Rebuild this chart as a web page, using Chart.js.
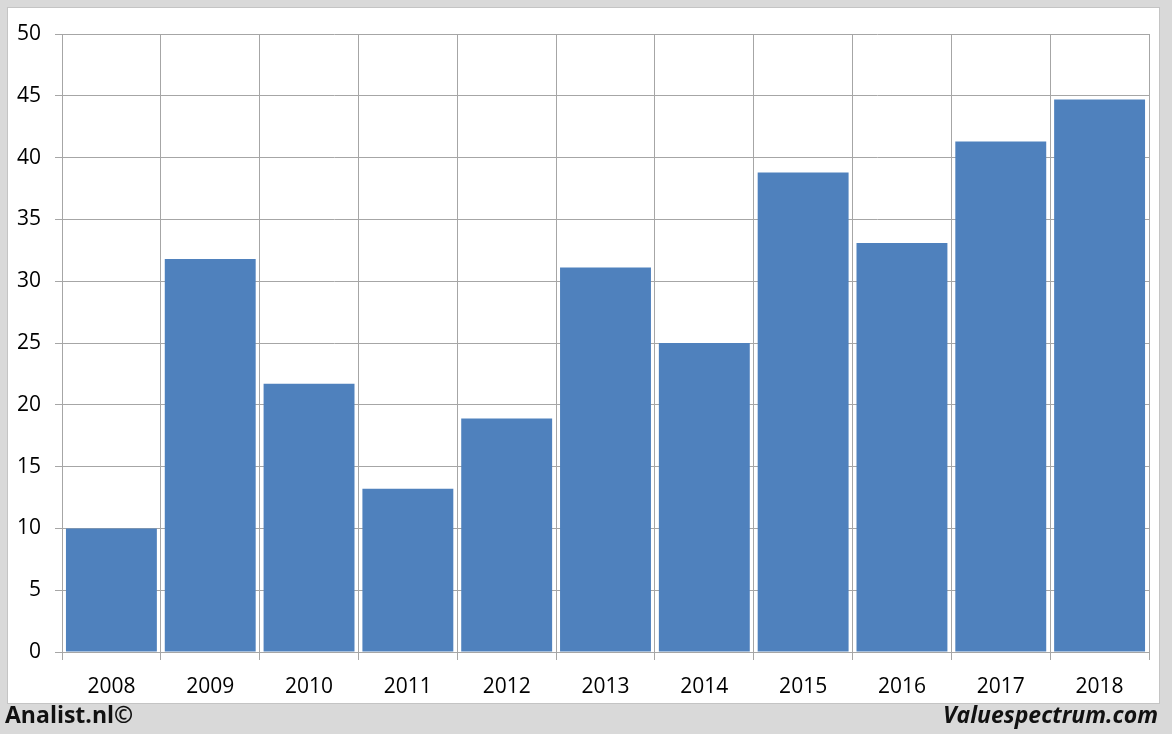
<!DOCTYPE html>
<html>
<head>
<meta charset="utf-8">
<script src="https://cdn.jsdelivr.net/npm/chart.js@4/dist/chart.umd.min.js"></script>
<style>
  html, body { margin: 0; padding: 0; background: #d9d9d9; width: 1172px; height: 734px; overflow: hidden; }
  #panel { position: absolute; left: 7px; top: 7px; width: 1151px; height: 695px; background: #ffffff; border: 1px solid #c4c4c4; }
  #wrap { position: absolute; left: 0; top: 0; width: 1172px; height: 734px; }
  .foot { position: absolute; font-family: "Open Sans", sans-serif; font-weight: bold; font-size: 23px; color: #111; line-height: 1; }
  #left { left: 5px; top: 703px; }
  #right { right: 14px; top: 703px; font-style: italic; }
</style>
</head>
<body>
<div id="panel"></div>
<div id="wrap"><canvas id="c" width="1172" height="734"></canvas></div>
<div class="foot" id="left">Analist.nl©</div>
<div class="foot" id="right">Valuespectrum.com</div>
<script>
const categories = ["2008","2009","2010","2011","2012","2013","2014","2015","2016","2017","2018"];
const values = [10.0, 31.8, 21.7, 13.2, 18.9, 31.1, 25.0, 38.8, 33.1, 41.3, 44.7];
const yTicks = [0, 5, 10, 15, 20, 25, 30, 35, 40, 45, 50];

const gridColor = '#a6a6a6';
new Chart(document.getElementById('c'), {
  type: 'bar',
  data: {
    labels: categories,
    datasets: [{
      data: values,
      backgroundColor: '#4f81bd',
      borderWidth: 0,
      barPercentage: 0.92,
      categoryPercentage: 1.0
    }]
  },
  options: {
    responsive: false,
    animation: false,
    devicePixelRatio: 1,
    layout: { padding: { left: 0, right: 23, top: 34, bottom: 0 } },
    plugins: { legend: { display: false }, tooltip: { enabled: false } },
    scales: {
      x: {
        offset: true,
        grid: { offset: true, color: gridColor, lineWidth: 1, drawTicks: true, tickLength: 8 },
        border: { color: gridColor },
        ticks: { color: '#000', font: { family: 'Open Sans', size: 21 }, padding: 14, maxRotation: 0 },
        afterFit: (s) => { s.height = 82; }
      },
      y: {
        min: 0, max: 50,
        afterBuildTicks: (s) => { s.ticks = yTicks.map(v => ({ value: v })); },
        grid: { color: gridColor, lineWidth: 1, drawTicks: true, tickLength: 7 },
        border: { color: gridColor },
        ticks: { color: '#000', font: { family: 'Open Sans', size: 21 }, padding: 14 },
        afterFit: (s) => { s.width = 62; }
      }
    }
  }
});
</script>
</body>
</html>
